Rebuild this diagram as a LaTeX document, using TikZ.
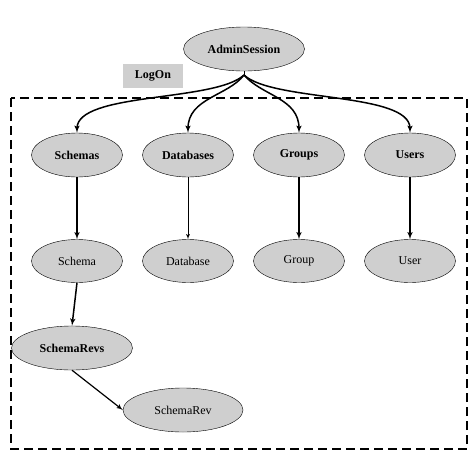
\documentclass[tikz,border=0pt]{standalone}
\usepackage{fontspec}
\setmainfont{Liberation Serif}
\usepackage{tikz}
\usetikzlibrary{shapes,arrows}

\begin{document}
\begin{tikzpicture}[x=1pt,y=-1pt,
    block_bold/.style ={ellipse, draw=black, thin, fill=gray!38,
      minimum width=91pt, minimum height=44pt, inner sep=0pt,
      font=\fontsize{12}{14}\selectfont\bfseries},
    block_plain/.style ={ellipse, draw=black, thin, fill=gray!38,
      minimum width=91pt, minimum height=43pt, inner sep=0pt,
      font=\fontsize{12}{14}\selectfont},
    block_label/.style ={rectangle, draw=none, fill=gray!38,
      minimum width=60pt, minimum height=24pt,
      font=\fontsize{12}{14}\selectfont\bfseries},
    line/.style ={draw, line width=1.5pt, -latex', shorten >=0pt},
    line_thin/.style ={draw, line width=0.8pt, -latex'},
    cluster/.style ={draw=black, line width=2.5pt,
      dash pattern=on 9pt off 5pt}]
    \useasboundingbox (0,0) rectangle (469,459);
    % the LogOn cluster
    \draw [cluster] (11,98) rectangle (467,449);
    \node [block_label] (logon) at (153,76) {LogOn};
    % row 0
    \node [block_bold, minimum width=121pt] (session) at (244,49) {AdminSession};
    \coordinate (hub) at (244,75);
    % row 1
    \node [block_bold] (schemas) at (77,155) {Schemas};
    \node [block_bold] (databases) at (188,155) {Databases};
    \node [block_bold] (groups) at (299,155) {Groups};
    \node [block_bold] (users) at (410,155) {Users};
    % row 2
    \node [block_plain] (schema) at (77,261) {Schema};
    \node [block_plain] (database) at (188,261) {Database};
    \node [block_plain] (group) at (299,261) {Group};
    \node [block_plain] (user) at (410,261) {User};
    % row 3
    \node [block_bold, minimum width=121pt] (schemarevs) at (72,348) {SchemaRevs};
    % row 4
    \node [block_plain, minimum width=120pt, minimum height=44pt] (schemarev) at (183,410) {SchemaRev};
    % connecting nodes with paths
    \draw [line_thin, -] (session) -- (hub);
    \begin{scope}[every path/.style=line]
     \path (hub) .. controls (215,102) and (77,92) .. (schemas.north);
     \path (hub) .. controls (228,96) and (188,98) .. (databases.north);
     \path (hub) .. controls (262,96) and (299,98) .. (groups.north);
     \path (hub) .. controls (273,102) and (410,92) .. (users.north);
     \path (schemas)   -- (schema);
     \path (groups)   -- (group);
     \path (users)   -- (user);
     \path (schema.south)   -- (schemarevs.north);
    \end{scope}
    \path [line_thin] (databases) -- (database);
    \path [line_thin, line width=1.2pt] (schemarevs.south) -- (schemarev.west);
  \end{tikzpicture}
\end{document}
